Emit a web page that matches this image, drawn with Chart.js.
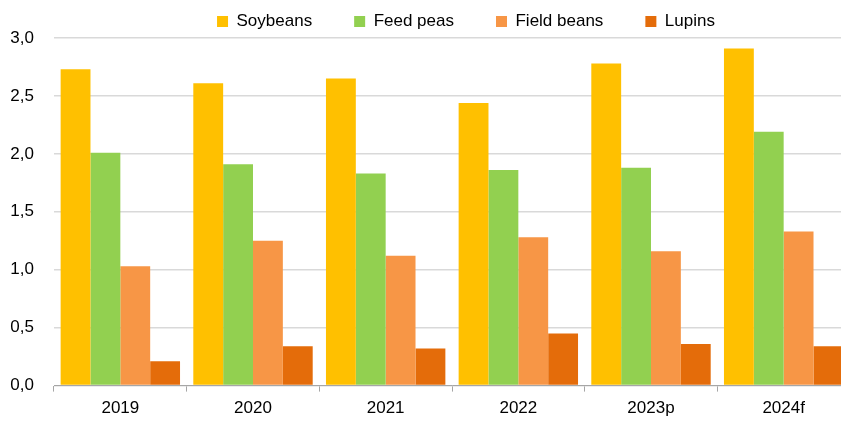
<!DOCTYPE html>
<html lang="en">
<head>
  <meta charset="UTF-8">
  <title>Pulses and soybeans</title>
  <script src="https://cdn.jsdelivr.net/npm/chart.js"></script>
  <style>
    html, body { margin: 0; padding: 0; background: #fff; overflow: hidden; }
    /* plot runs a few px past the right edge in the original, so the canvas is wider than the window */
    #wrap { width: 850px; height: 426px; position: relative; }
  </style>
</head>
<body>
  <div id="wrap"><canvas id="pulseChart"></canvas></div>

  <script>
    // values
    var years = ['2019', '2020', '2021', '2022', '2023p', '2024f'];
    var soybeans = [2.73, 2.61, 2.65, 2.44, 2.78, 2.91];
    var feedPeas = [2.01, 1.91, 1.83, 1.86, 1.88, 2.19];
    var fieldBeans = [1.03, 1.25, 1.12, 1.28, 1.16, 1.33];
    var lupins = [0.21, 0.34, 0.32, 0.45, 0.36, 0.34];
    var yTicks = [0, 0.5, 1, 1.5, 2, 2.5, 3];

    Chart.defaults.font.family = '"Liberation Sans", Arial, sans-serif';
    Chart.defaults.color = '#000';

    // nudge the legend right/down so it sits where the original has it
    var legendShift = {
      id: 'legendShift',
      afterLayout: function (chart) {
        var lg = chart.legend;
        if (lg) {
          lg.left += 41; lg.right += 41;
          lg.top += 2; lg.bottom += 2;
        }
      }
    };

    var ctx = document.getElementById('pulseChart').getContext('2d');
    var pulseChart = new Chart(ctx, {
      type: 'bar',
      data: {
        labels: years,
        datasets: [
          { label: 'Soybeans', data: soybeans, backgroundColor: '#FFC000' },
          { label: 'Feed peas', data: feedPeas, backgroundColor: '#92D050' },
          { label: 'Field beans', data: fieldBeans, backgroundColor: '#F79646' },
          { label: 'Lupins', data: lupins, backgroundColor: '#E46C0A' }
        ]
      },
      plugins: [legendShift],
      options: {
        responsive: true,
        maintainAspectRatio: false,
        animation: false,
        datasets: { bar: { categoryPercentage: 0.9, barPercentage: 1.0 } },
        layout: { padding: { top: -31, right: 0, left: 0, bottom: 0 } },
        plugins: {
          legend: {
            position: 'top',
            labels: {
              boxWidth: 11, boxHeight: 11, padding: 42,
              font: { size: 17 }
            }
          },
          tooltip: { enabled: false }
        },
        scales: {
          x: {
            grid: { drawOnChartArea: false, tickLength: 6, color: '#a6a6a6' },
            border: { color: '#a6a6a6' },
            ticks: { font: { size: 17 }, padding: 7 }
          },
          y: {
            min: 0, max: 3,
            afterBuildTicks: function (axis) {
              axis.ticks = yTicks.map(function (v) { return { value: v }; });
            },
            afterFit: function (axis) { axis.width = 54; },
            grid: { color: '#d9d9d9', lineWidth: 1.5, drawTicks: false },
            border: { display: false },
            ticks: {
              font: { size: 17 }, padding: 20,
              callback: function (v) { return v.toFixed(1).replace('.', ','); }
            }
          }
        }
      }
    });
  </script>
</body>
</html>
